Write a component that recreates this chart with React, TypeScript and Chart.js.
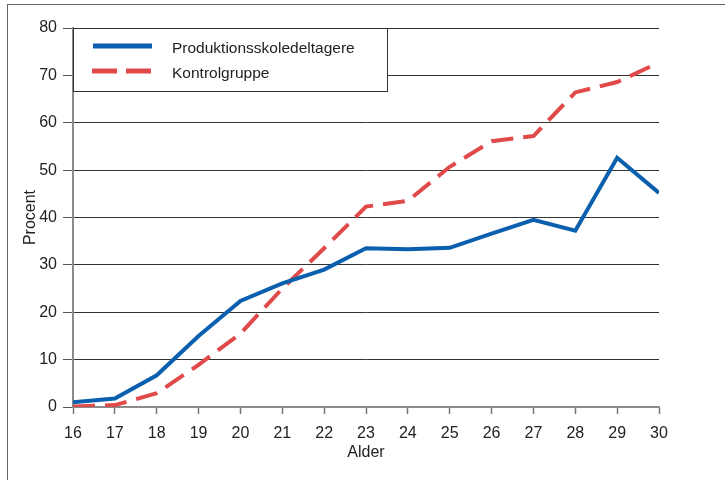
import React, { useEffect, useRef } from "react";
import { Chart, registerables } from "chart.js";

Chart.register(...registerables);

const ages = ["16", "17", "18", "19", "20", "21", "22", "23", "24", "25", "26", "27", "28", "29", "30"];
const produktionsskole = [1.0, 1.8, 6.7, 15.0, 22.4, 26.1, 29.0, 33.5, 33.3, 33.6, 36.6, 39.5, 37.2, 52.6, 45.2];
const kontrolgruppe = [0.1, 0.4, 2.9, 8.9, 15.5, 25.0, 33.5, 42.3, 43.5, 50.7, 56.1, 57.2, 66.4, 68.6, 72.7];
const seriesNames = ["Produktionsskoledeltagere", "Kontrolgruppe"];

const BLUE = "#0a5fae";
const RED = "#e04a4a";
const FONT = "'Liberation Sans', Arial, sans-serif";

const legendPlugin = {
  id: "boxLegend",
  afterDatasetsDraw(chart: any) {
    const { ctx, chartArea } = chart;
    const x0 = chartArea.left;
    const y0 = chartArea.top;
    const w = 314;
    const h = 63;
    ctx.save();
    ctx.fillStyle = "#ffffff";
    ctx.fillRect(x0, y0, w, h);
    ctx.strokeStyle = "#333333";
    ctx.lineWidth = 1;
    ctx.strokeRect(Math.round(x0) + 0.5, Math.round(y0) + 0.5, w, h);
    ctx.lineWidth = 5;
    ctx.lineCap = "butt";
    ctx.strokeStyle = BLUE;
    ctx.beginPath();
    ctx.moveTo(x0 + 20, y0 + 18);
    ctx.lineTo(x0 + 79, y0 + 18);
    ctx.stroke();
    ctx.strokeStyle = RED;
    ctx.setLineDash([25, 9]);
    ctx.beginPath();
    ctx.moveTo(x0 + 19, y0 + 43);
    ctx.lineTo(x0 + 78, y0 + 43);
    ctx.stroke();
    ctx.setLineDash([]);
    ctx.fillStyle = "#222222";
    ctx.font = `15.5px ${FONT}`;
    ctx.textBaseline = "alphabetic";
    ctx.textAlign = "left";
    ctx.fillText(seriesNames[0], x0 + 99, y0 + 25);
    ctx.fillText(seriesNames[1], x0 + 99, y0 + 50);
    ctx.restore();
  },
};

export default function App() {
  const ref = useRef<HTMLCanvasElement | null>(null);
  useEffect(() => {
    if (!ref.current) return;
    const chart = new Chart(ref.current, {
      type: "line",
      data: {
        labels: ages,
        datasets: [
          {
            label: seriesNames[0],
            data: produktionsskole,
            borderColor: BLUE,
            backgroundColor: BLUE,
            borderWidth: 4,
            pointRadius: 0,
            tension: 0,
            borderJoinStyle: "miter",
            clip: 0,
          },
          {
            label: seriesNames[1],
            data: kontrolgruppe,
            borderColor: RED,
            backgroundColor: RED,
            borderWidth: 4,
            borderDash: [22, 10],
            pointRadius: 0,
            tension: 0,
            borderJoinStyle: "miter",
            clip: 0,
          },
        ],
      },
      options: {
        animation: false,
        responsive: false,
        maintainAspectRatio: false,
        layout: { padding: { left: 21, top: 28, right: 66, bottom: 18 } },
        plugins: { legend: { display: false }, tooltip: { enabled: false } },
        scales: {
          x: {
            type: "category",
            offset: false,
            grid: {
              offset: false,
              drawOnChartArea: false,
              drawTicks: true,
              tickLength: 7,
              tickColor: "#777777",
              tickWidth: 1.5,
            },
            border: { color: "#8a8a8a", width: 2 },
            ticks: { color: "#222222", font: { family: FONT, size: 16 }, padding: 10, maxRotation: 0, autoSkip: false },
            title: { display: true, text: "Alder", color: "#222222", font: { family: FONT, size: 16 }, padding: 0 },
            afterFit: (s: any) => {
              s.height = 55;
            },
          },
          y: {
            min: 0,
            max: 80,
            ticks: { stepSize: 10, color: "#222222", font: { family: FONT, size: 16 }, padding: 6 },
            grid: { color: "#333333", lineWidth: 1, tickLength: 10, tickColor: "#555555" },
            border: { color: "#8a8a8a", width: 2 },
            title: { display: true, text: "Procent", color: "#222222", font: { family: FONT, size: 16 }, padding: 0 },
            afterFit: (s: any) => {
              s.width = 52;
            },
          },
        },
      },
      plugins: [legendPlugin],
    });
    return () => chart.destroy();
  }, []);
  return (
    <div style={{ position: "absolute", left: 0, top: 0, width: 725, height: 480, background: "#fff" }}>
      <div
        style={{
          position: "absolute",
          left: 7,
          top: 4,
          width: 718,
          height: 476,
          borderTop: "1px solid #666",
          borderLeft: "1px solid #666",
          boxSizing: "border-box",
        }}
      />
      <canvas ref={ref} width={725} height={480} style={{ position: "absolute", left: 0, top: 0 }} />
    </div>
  );
}
